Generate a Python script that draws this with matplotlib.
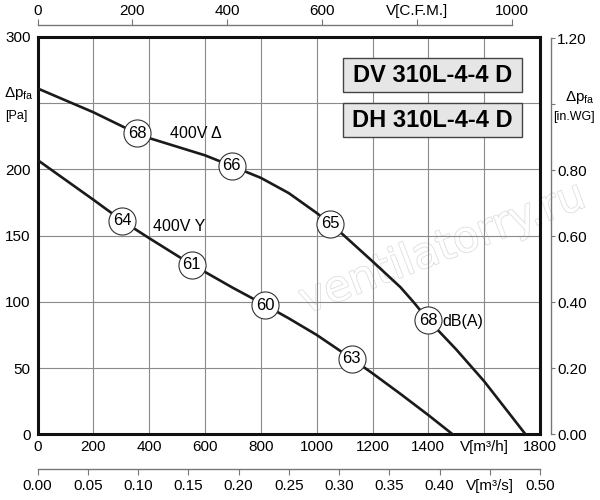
import matplotlib
matplotlib.use("Agg")
import matplotlib.pyplot as plt
import matplotlib.patheffects as pe

plt.rcParams['font.family'] = ['Liberation Sans', 'DejaVu Sans']
plt.rcParams['mathtext.fontset'] = 'custom'
plt.rcParams['mathtext.rm'] = 'Liberation Sans'
plt.rcParams['mathtext.it'] = 'Liberation Sans:italic'

# curve 400V delta (m3/h, Pa)
q_delta = [0, 100, 200, 356, 400, 500, 600, 695, 800, 900, 1000, 1048, 1090,
           1200, 1300, 1346, 1400, 1500, 1600, 1700, 1748]
p_delta = [261, 252, 243, 227, 223.5, 217, 210.5, 202.5, 193.5, 182, 167, 159, 151.5,
           130.5, 111, 100, 86.2, 64, 40, 13, 0]
# curve 400V Y
q_star = [0, 100, 200, 304, 400, 552, 600, 700, 815, 900, 1000, 1126, 1200, 1300, 1400, 1487]
p_star = [207, 192, 177, 161, 148, 128, 122.5, 110.5, 97.5, 87.5, 75, 57, 46, 30.5, 14.5, 0]

# noise level markers dB(A)
db_q = [356, 695, 1048, 1400, 304, 552, 815, 1126]
db_p = [227, 202.5, 159, 86.2, 161, 128, 97.5, 57]
db_val = ["68", "66", "65", "68", "64", "61", "60", "63"]

x_ticks = [0, 200, 400, 600, 800, 1000, 1200, 1400, 1600, 1800]
x_labels = ["0", "200", "400", "600", "800", "1000", "1200", "1400", "V[m³/h]", "1800"]
y_ticks = [0, 50, 100, 150, 200, 250, 300]
y_labels = ["0", "50", "100", "150", "200", "", "300"]
cfm_ticks = [0, 200, 400, 600, 800, 1000]
cfm_labels = ["0", "200", "400", "600", "V[C.F.M.]", "1000"]
ms_ticks = [0.0, 0.05, 0.10, 0.15, 0.20, 0.25, 0.30, 0.35, 0.40, 0.45, 0.50]
ms_labels = ["0.00", "0.05", "0.10", "0.15", "0.20", "0.25", "0.30", "0.35", "0.40", "V[m³/s]", "0.50"]
wg_ticks = [0.0, 0.2, 0.4, 0.6, 0.8, 1.0, 1.2]
wg_labels = ["0.00", "0.20", "0.40", "0.60", "0.80", "", "1.20"]

W, H = 600, 500
fig = plt.figure(figsize=(6, 5), dpi=100)
left, right, top, bottom = 37.5, 540, 36.7, 434.3
L = left / W
B = 1 - bottom / H
AW = (right - left) / W
AH = (bottom - top) / H
FS = 11

ax = fig.add_axes([L, B, AW, AH])
ax.set_xlim(0, 1800)
ax.set_ylim(0, 300)
ax.set_xticks(x_ticks)
ax.set_xticklabels(x_labels)
ax.set_yticks(y_ticks)
ax.set_yticklabels(y_labels)
ax.tick_params(length=0, labelsize=FS)
ax.tick_params(axis='y', pad=5)
ax.tick_params(axis='x', pad=4)
ax.grid(True, color='#8a8a8a', linewidth=0.8)
for s in ax.spines.values():
    s.set_linewidth(2.2)
    s.set_color('#111111')

# watermark
ax.text(1450, 140, "ventilatorry.ru", fontsize=31, rotation=21, color='white',
        family='DejaVu Sans', ha='center', va='center', zorder=1,
        path_effects=[pe.Stroke(linewidth=1.2, foreground='#dedede'), pe.Normal()])

ax.plot(q_delta, p_delta, color='#1a1a1a', linewidth=1.9, zorder=3)
ax.plot(q_star, p_star, color='#1a1a1a', linewidth=1.9, zorder=3)
ax.plot(db_q, db_p, 'o', markersize=19.5, markerfacecolor='white',
        markeredgecolor='#333333', markeredgewidth=0.8, zorder=4)
for q, p, t in zip(db_q, db_p, db_val):
    ax.text(q, p, t, ha='center', va='center', fontsize=12, zorder=5)

ax.text(566, 227, "400V Δ", ha='center', va='center', fontsize=11.5, zorder=5)
ax.text(507, 157, "400V Y", ha='center', va='center', fontsize=11.5, zorder=5)
ax.text(1450, 85, "dB(A)", ha='left', va='center', fontsize=11.5, zorder=5)

# model name boxes
for y0, name in [(58, "DV 310L-4-4 D"), (103, "DH 310L-4-4 D")]:
    fig.patches.append(plt.Rectangle((343 / W, 1 - (y0 + 34) / H), 179 / W, 34 / H,
                                     transform=fig.transFigure, facecolor='#e6e6e6',
                                     edgecolor='#444444', linewidth=1.0, zorder=6))
    fig.text(432.5 / W, 1 - (y0 + 17.5) / H, name, ha='center', va='center',
             fontsize=17, fontweight='bold', zorder=7)

# top axis, C.F.M.
ax_cfm = fig.add_axes([L, 1 - 25 / H, AW, 1e-6])
ax_cfm.set_facecolor('none')
ax_cfm.set_xlim(0, 1800 / 1.699)
for k in ['left', 'right', 'bottom']:
    ax_cfm.spines[k].set_visible(False)
ax_cfm.spines['top'].set_color('#777777')
ax_cfm.spines['top'].set_linewidth(1.0)
ax_cfm.spines['top'].set_bounds(0, 1000)
ax_cfm.set_yticks([])
ax_cfm.xaxis.set_ticks_position('top')
ax_cfm.set_xticks(cfm_ticks)
ax_cfm.set_xticklabels(cfm_labels)
ax_cfm.tick_params(axis='x', direction='out', length=4, pad=1, color='#777777', labelsize=FS)

# bottom axis, m3/s
ax_ms = fig.add_axes([L, 1 - 469 / H, AW, 1e-6])
ax_ms.set_facecolor('none')
ax_ms.set_xlim(0, 0.5)
for k in ['left', 'right', 'top']:
    ax_ms.spines[k].set_visible(False)
ax_ms.spines['bottom'].set_color('#777777')
ax_ms.spines['bottom'].set_linewidth(1.0)
ax_ms.set_yticks([])
ax_ms.set_xticks(ms_ticks)
ax_ms.set_xticklabels(ms_labels)
ax_ms.tick_params(axis='x', direction='out', length=4.5, pad=2.5, color='#777777', labelsize=FS)

# right axis, in.WG
ax_wg = fig.add_axes([551 / W, B, 1e-6, AH])
ax_wg.set_facecolor('none')
ax_wg.set_ylim(0, 300 / 249.089)
for k in ['left', 'top', 'bottom']:
    ax_wg.spines[k].set_visible(False)
ax_wg.spines['right'].set_color('#777777')
ax_wg.spines['right'].set_linewidth(1.0)
ax_wg.spines['right'].set_bounds(0, 1.2)
ax_wg.set_xticks([])
ax_wg.yaxis.set_ticks_position('right')
ax_wg.set_yticks(wg_ticks)
ax_wg.set_yticklabels(wg_labels)
ax_wg.tick_params(axis='y', direction='out', length=3, pad=1.5, color='#777777', labelsize=FS)

# axis titles
fig.text(19 / W, 1 - 93 / H, r"Δp$_\mathrm{fa}$", ha='center', va='center', fontsize=11)
fig.text(16 / W, 1 - 116 / H, "[Pa]", ha='center', va='center', fontsize=9)
fig.text(580 / W, 1 - 97 / H, r"Δp$_\mathrm{fa}$", ha='center', va='center', fontsize=11)
fig.text(574 / W, 1 - 117 / H, "[in.WG]", ha='center', va='center', fontsize=9)

fig.savefig("out.png", dpi=100)
